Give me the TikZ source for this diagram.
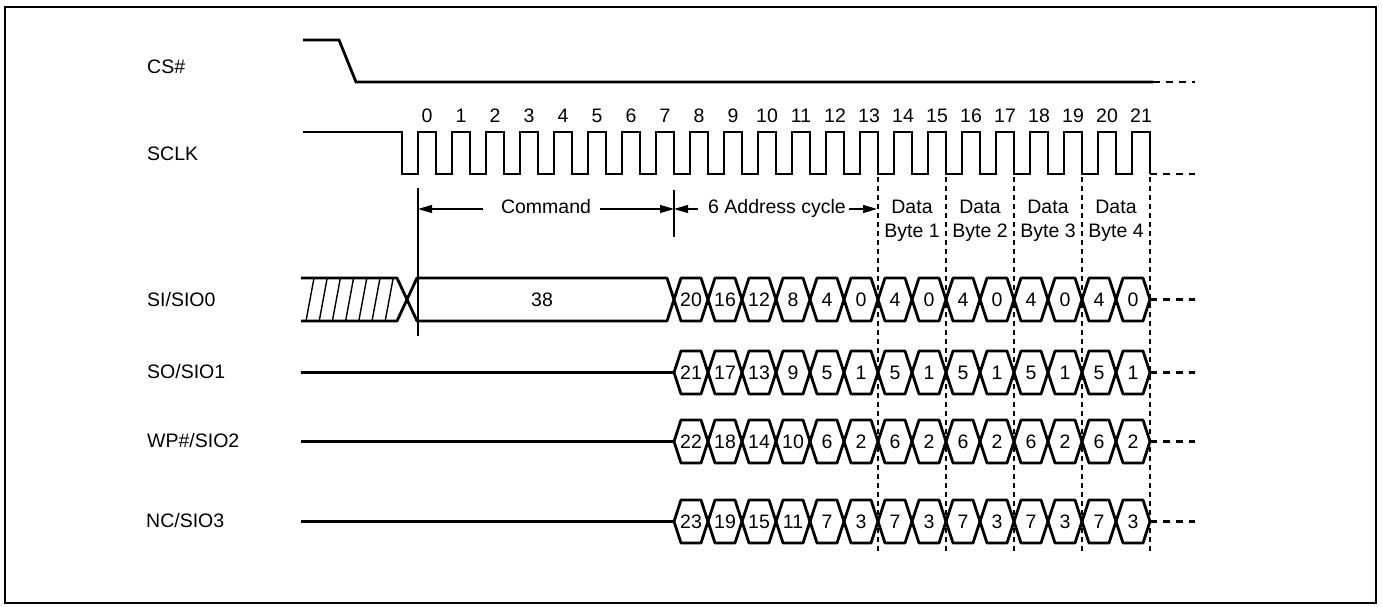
\documentclass[tikz,border=0pt]{standalone}
\usepackage{fontspec}
\setmainfont{Liberation Sans}
\usetikzlibrary{arrows.meta}

% one data line: hexagon cells from the fall of clock 7 on
\newcommand{\drawbus}[3]{%
  \foreach \v [count=\i from 0] in {#3} {
    \pgfmathsetmacro\cx{674+34*\i}
    \path[sigline] (\cx,#2) -- ({\cx+7},{#2-21.5}) -- ({\cx+27},{#2-21.5})
      -- ({\cx+34},#2) -- ({\cx+27},{#2+21.5}) -- ({\cx+7},{#2+21.5}) -- cycle;
    \node[cellval] (#1-\i) at ({\cx+17},#2) {\v};
  }
  \path[tailline] (1150,#2) -- (1195,#2);
}

\begin{document}
\begin{tikzpicture}[
      x=1pt, y=-1pt,
      font=\fontsize{19.5}{23}\selectfont
    ]

    \tikzstyle{outerframe} = [
        draw,
        line width=2pt
    ]

    \tikzstyle{sigline} = [
        draw,
        line width=2.8pt,
        line join=round
    ]

    \tikzstyle{clkline} = [
        draw,
        line width=2.8pt,
        line join=miter
    ]

    \tikzstyle{tailline} = [
        draw,
        line width=2.8pt,
        dash pattern=on 7pt off 6pt
    ]

    \tikzstyle{hatchline} = [
        draw,
        line width=1.4pt
    ]

    \tikzstyle{guideline} = [
        draw,
        line width=1.3pt
    ]

    \tikzstyle{divline} = [
        draw,
        line width=1.2pt,
        dash pattern=on 5pt off 4pt
    ]

    \tikzstyle{dimarrow} = [
        draw,
        line width=1.3pt,
        -{Triangle[length=14pt,width=8pt]}
    ]

    \tikzstyle{signame} = [
        anchor=west,
        inner sep=0pt
    ]

    \tikzstyle{cellval} = [
        inner sep=0pt
    ]

    \useasboundingbox (0,0) rectangle (1382,607);
    \path[outerframe] (5,7) rectangle (1376,603);

    % signal names
    \node [signame]                  (cs) at (147,67)  {CS\#};
    \node [signame]                (sclk) at (147,154) {SCLK};
    \node [signame]                  (si) at (147,300) {SI/SIO0};
    \node [signame]                  (so) at (147,372) {SO/SIO1};
    \node [signame]                  (wp) at (147,441) {WP\#/SIO2};
    \node [signame]                  (nc) at (146,521) {NC/SIO3};

    % CS#
    \path [clkline] (303,40) -- (339,40) -- (356,82) -- (1153,82);
    \path [tailline] (1153,82) -- (1195,82);

    % SCLK
    \path [clkline] (303,132) -- (402,132) -- (402,174) -- (418,174)
      \foreach \k in {0,...,21} {
        -- ({418+34*\k},174) -- ({418+34*\k},132) -- ({436+34*\k},132) -- ({436+34*\k},174)
      };
    \path [tailline] (1150,174) -- (1195,174);
    \foreach \k in {0,...,21}
      \node [cellval] (tick\k) at ({427+34*\k},116) {\k};

    % phase dividers
    \foreach \x in {878,946,1014,1082,1150}
      \path [divline] (\x,177) -- (\x,552);
    \path [guideline] (418,188) -- (418,336);
    \path [guideline] (674,190) -- (674,237);

    % phase labels
    \node [cellval, anchor=base]      (cmd) at (546,213) {Command};
    \node [cellval, anchor=base]     (addr) at (777,213) {6 Address cycle};
    \foreach \b in {1,...,4} {
      \node [cellval, anchor=base] (data\b) at ({844+68*\b},213) {Data};
      \node [cellval, anchor=base] (byte\b) at ({844+68*\b},237) {Byte \b};
    }

    \coordinate (cmdL)  at (418,209);
    \coordinate (cmdA)  at (483,209);
    \coordinate (cmdB)  at (600,209);
    \coordinate (cmdR)  at (674,209);
    \coordinate (addrA) at (698,209);
    \coordinate (addrB) at (849,209);
    \coordinate (addrR) at (877,209);

    \path [dimarrow] (cmdA) -- (cmdL);
    \path [dimarrow] (cmdB) -- (cmdR);
    \path [dimarrow] (addrA) -- (cmdR);
    \path [dimarrow] (addrB) -- (addrR);

    % SI/SIO0: don't care, then command
    \foreach \i in {0,...,6}
      \path [hatchline] ({306+13.2*\i},321) -- ({314+13.2*\i},278);
    \path [sigline] (301,278) -- (397,278) -- (417,321) -- (667,321) -- (674,299.5);
    \path [sigline] (301,321) -- (397,321) -- (417,278) -- (667,278) -- (674,299.5);
    \node [cellval] (opcode) at (542,300) {38};
    \drawbus{sio0}{299.5}{20,16,12,8,4,0,4,0,4,0,4,0,4,0}

    % SO/SIO1
    \path [sigline] (301,372.5) -- (674,372.5);
    \drawbus{sio1}{372.5}{21,17,13,9,5,1,5,1,5,1,5,1,5,1}

    % WP#/SIO2
    \path [sigline] (301,441.5) -- (674,441.5);
    \drawbus{sio2}{441.5}{22,18,14,10,6,2,6,2,6,2,6,2,6,2}

    % NC/SIO3
    \path [sigline] (301,521.5) -- (674,521.5);
    \drawbus{sio3}{521.5}{23,19,15,11,7,3,7,3,7,3,7,3,7,3}

\end{tikzpicture}
\end{document}
